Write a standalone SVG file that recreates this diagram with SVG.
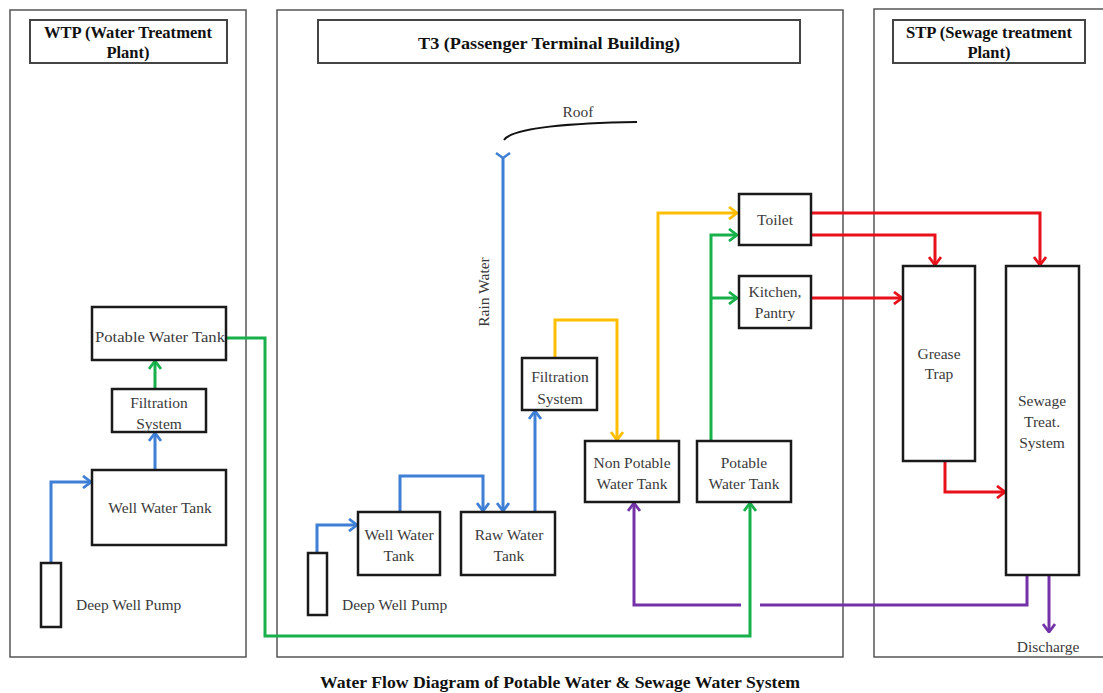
<svg xmlns="http://www.w3.org/2000/svg" width="1103" height="693" viewBox="0 0 1103 693">
  <style>
    .panel { fill: none; stroke: #555; stroke-width: 1.5; }
    .title { fill: #fff; stroke: #444; stroke-width: 2; }
    .box { fill: #fff; stroke: #1a1a1a; stroke-width: 2.5; }
    .t { font-family: "Liberation Serif", serif; font-size: 15.5px; fill: #3a3a3a; text-anchor: middle; }
    .ts { font-family: "Liberation Serif", serif; font-size: 15.5px; fill: #3a3a3a; text-anchor: start; }
    .tb { font-family: "Liberation Serif", serif; font-size: 16.5px; font-weight: bold; fill: #111; text-anchor: middle; }
    .flow { fill: none; stroke-width: 3; stroke-linejoin: miter; }
    .blue { stroke: #3f7fd6; }
    .green { stroke: #17b04a; }
    .yellow { stroke: #ffbf00; }
    .red { stroke: #e8101a; }
    .purple { stroke: #7432a8; }
  </style>
  <defs>
    <marker id="ah-blue" viewBox="0 0 10 14" refX="9" refY="7" markerWidth="10" markerHeight="14" markerUnits="userSpaceOnUse" orient="auto">
      <path d="M1,1 L9,7 L1,13" fill="none" stroke="#3f7fd6" stroke-width="2.8"/>
    </marker>
    <marker id="ah-green" viewBox="0 0 10 14" refX="9" refY="7" markerWidth="10" markerHeight="14" markerUnits="userSpaceOnUse" orient="auto">
      <path d="M1,1 L9,7 L1,13" fill="none" stroke="#17b04a" stroke-width="2.8"/>
    </marker>
    <marker id="ah-yellow" viewBox="0 0 10 14" refX="9" refY="7" markerWidth="10" markerHeight="14" markerUnits="userSpaceOnUse" orient="auto">
      <path d="M1,1 L9,7 L1,13" fill="none" stroke="#ffbf00" stroke-width="2.8"/>
    </marker>
    <marker id="ah-red" viewBox="0 0 10 14" refX="9" refY="7" markerWidth="10" markerHeight="14" markerUnits="userSpaceOnUse" orient="auto">
      <path d="M1,1 L9,7 L1,13" fill="none" stroke="#e8101a" stroke-width="2.8"/>
    </marker>
    <marker id="ah-purple" viewBox="0 0 10 14" refX="9" refY="7" markerWidth="10" markerHeight="14" markerUnits="userSpaceOnUse" orient="auto">
      <path d="M1,1 L9,7 L1,13" fill="none" stroke="#7432a8" stroke-width="2.8"/>
    </marker>
  </defs>

  <rect width="1103" height="693" fill="#fff"/>

  <!-- Site panels -->
  <g id="panel-wtp">
    <rect class="panel" x="10" y="10" width="236" height="647"/>
    <rect class="title" x="30" y="20" width="197" height="43"/>
    <text class="tb" x="128" y="38" textLength="168" lengthAdjust="spacingAndGlyphs">WTP (Water Treatment</text>
    <text class="tb" x="128" y="58">Plant)</text>
  </g>
  <g id="panel-t3">
    <rect class="panel" x="277" y="10" width="566" height="647"/>
    <rect class="title" x="318" y="20" width="482" height="43"/>
    <text class="tb" x="549" y="49" textLength="262" lengthAdjust="spacingAndGlyphs">T3 (Passenger Terminal Building)</text>
  </g>
  <g id="panel-stp">
    <rect class="panel" x="874" y="9" width="240" height="648"/>
    <rect class="title" x="893" y="20" width="192" height="43"/>
    <text class="tb" x="989" y="38" textLength="166" lengthAdjust="spacingAndGlyphs">STP (Sewage treatment</text>
    <text class="tb" x="989" y="58">Plant)</text>
  </g>

  <!-- Connectors -->
  <g id="connectors">
    <!-- WTP -->
    <path class="flow blue" d="M51,563 V482 H91" marker-end="url(#ah-blue)"/>
    <path class="flow blue" d="M155,470 V433" marker-end="url(#ah-blue)"/>
    <path class="flow green" d="M155,389 V361" marker-end="url(#ah-green)"/>
    <path class="flow green" d="M226,338 H265 V636 H750 V503" marker-end="url(#ah-green)"/>

    <!-- T3 raw water side -->
    <path class="flow blue" d="M317,553 V525 H357" marker-end="url(#ah-blue)"/>
    <path class="flow blue" d="M400,512 V476 H483 V511" marker-end="url(#ah-blue)"/>
    <path class="flow blue" d="M503,158 V511" marker-end="url(#ah-blue)"/>
    <path d="M496,153 L503,158 L510,153" fill="none" stroke="#3f7fd6" stroke-width="2.5"/>
    <path class="flow blue" d="M535,512 V411" marker-end="url(#ah-blue)"/>
    <path class="flow yellow" d="M555,358 V320 H617 V440" marker-end="url(#ah-yellow)"/>
    <path class="flow yellow" d="M658,441 V213 H737" marker-end="url(#ah-yellow)"/>
    <path class="flow green" d="M711,441 V235 H737" marker-end="url(#ah-green)"/>
    <path class="flow green" d="M711,298 H737" marker-end="url(#ah-green)"/>

    <!-- Roof -->
    <path d="M504,140 Q515,124 637,122" fill="none" stroke="#111" stroke-width="2"/>

    <!-- Sewage -->
    <path class="flow red" d="M811,213 H1040 V265" marker-end="url(#ah-red)"/>
    <path class="flow red" d="M811,235 H935 V265" marker-end="url(#ah-red)"/>
    <path class="flow red" d="M811,298 H902" marker-end="url(#ah-red)"/>
    <path class="flow red" d="M945,461 V492 H1005" marker-end="url(#ah-red)"/>

    <!-- Recycled water return and discharge -->
    <path class="flow purple" d="M1027,575 V605 H760"/>
    <path class="flow purple" d="M741,605 H634 V503" marker-end="url(#ah-purple)"/>
    <path class="flow purple" d="M1049,575 V632" marker-end="url(#ah-purple)"/>
  </g>

  <!-- WTP nodes -->
  <g id="wtp-potable-tank">
    <rect class="box" x="92" y="307" width="134" height="53"/>
    <text class="t" x="160" y="342" textLength="130" lengthAdjust="spacingAndGlyphs">Potable Water Tank</text>
  </g>
  <g id="wtp-filtration">
    <rect class="box" x="112" y="389" width="94" height="43"/>
    <text class="t" x="159" y="408">Filtration</text>
    <text class="t" x="159" y="429">System</text>
  </g>
  <g id="wtp-well-tank">
    <rect class="box" x="92" y="470" width="134" height="75"/>
    <text class="t" x="160" y="513">Well Water Tank</text>
  </g>
  <g id="wtp-pump">
    <rect class="box" x="41" y="563" width="20" height="64"/>
    <text class="ts" x="76" y="610">Deep Well Pump</text>
  </g>

  <!-- T3 nodes -->
  <g id="t3-roof">
    <text class="t" x="578" y="117">Roof</text>
  </g>
  <g id="t3-rain-water">
    <text class="t" transform="translate(489,292) rotate(-90)">Rain Water</text>
  </g>
  <g id="t3-pump">
    <rect class="box" x="308" y="553" width="19" height="62"/>
    <text class="ts" x="342" y="610">Deep Well Pump</text>
  </g>
  <g id="t3-well-tank">
    <rect class="box" x="358" y="512" width="82" height="63"/>
    <text class="t" x="399" y="540">Well Water</text>
    <text class="t" x="399" y="561">Tank</text>
  </g>
  <g id="t3-raw-tank">
    <rect class="box" x="461" y="512" width="94" height="63"/>
    <text class="t" x="509" y="540">Raw Water</text>
    <text class="t" x="509" y="561">Tank</text>
  </g>
  <g id="t3-filtration">
    <rect class="box" x="522" y="358" width="75" height="52"/>
    <text class="t" x="560" y="382">Filtration</text>
    <text class="t" x="560" y="404">System</text>
  </g>
  <g id="t3-non-potable-tank">
    <rect class="box" x="585" y="441" width="94" height="61"/>
    <text class="t" x="632" y="468">Non Potable</text>
    <text class="t" x="632" y="489">Water Tank</text>
  </g>
  <g id="t3-potable-tank">
    <rect class="box" x="697" y="441" width="94" height="61"/>
    <text class="t" x="744" y="468">Potable</text>
    <text class="t" x="744" y="489">Water Tank</text>
  </g>
  <g id="t3-toilet">
    <rect class="box" x="739" y="194" width="72" height="51"/>
    <text class="t" x="775" y="225">Toilet</text>
  </g>
  <g id="t3-kitchen">
    <rect class="box" x="739" y="276" width="72" height="52"/>
    <text class="t" x="775" y="297">Kitchen,</text>
    <text class="t" x="775" y="318">Pantry</text>
  </g>

  <!-- STP nodes -->
  <g id="stp-grease-trap">
    <rect class="box" x="903" y="266" width="72" height="195"/>
    <text class="t" x="939" y="359">Grease</text>
    <text class="t" x="939" y="379">Trap</text>
  </g>
  <g id="stp-sewage-treat">
    <rect class="box" x="1006" y="266" width="73" height="309"/>
    <text class="t" x="1042" y="406">Sewage</text>
    <text class="t" x="1042" y="427">Treat.</text>
    <text class="t" x="1042" y="448">System</text>
  </g>
  <g id="stp-discharge">
    <text class="t" x="1048" y="652">Discharge</text>
  </g>

  <!-- Caption -->
  <text class="tb" x="560" y="688" textLength="480" lengthAdjust="spacingAndGlyphs">Water Flow Diagram of Potable Water &amp; Sewage Water System</text>
</svg>
